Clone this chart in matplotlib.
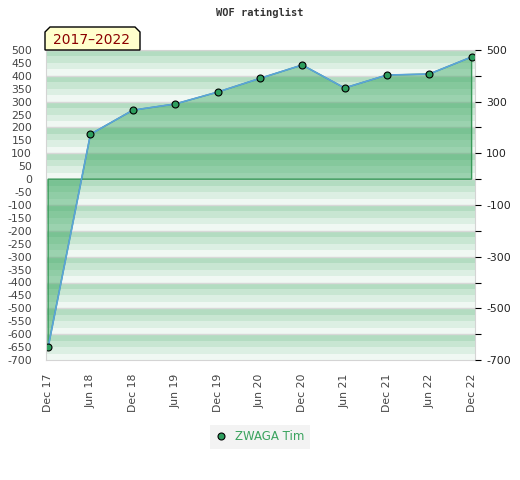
import numpy as np
import matplotlib.pyplot as plt
from matplotlib.patches import Polygon

plt.rcParams['axes.unicode_minus'] = False

# data
periods = ['Dec 17', 'Jun 18', 'Dec 18', 'Jun 19', 'Dec 19', 'Jun 20',
           'Dec 20', 'Jun 21', 'Dec 21', 'Jun 22', 'Dec 22']
rating = [-651, 174, 267, 291, 337, 390, 442, 353, 403, 407, 473]
player = 'ZWAGA Tim'
title = 'WOF ratinglist'
period_label = '2017\u20132022'

y_min, y_max = -700, 500
left_ticks = list(range(-700, 501, 50))
right_major = list(range(-700, 501, 200))
right_minor = list(range(-600, 501, 200))

stripe_cols = ['#b3dcc1', '#c8e6d2', '#dcefe3', '#f0f8f3']

fig = plt.figure(figsize=(5.2, 4.8), dpi=100)
ax = fig.add_axes([46 / 520, 1 - 360 / 480, 429 / 520, 310 / 480])

# striped background, darkest at the top of each 100 band
for top in range(y_max, y_min, -100):
    for k, c in enumerate(stripe_cols):
        ax.axhspan(top - 25 * (k + 1), top - 25 * k, color=c, lw=0, zorder=0)
    ax.axhline(top, color='#d8d8d8', lw=1, zorder=0.5)

x = np.arange(len(periods))
poly = [(x[0], 0)] + list(zip(x, rating)) + [(x[-1], 0)]
ax.add_patch(Polygon(poly, closed=True, facecolor='#34a45c', alpha=0.45,
                     edgecolor='none', zorder=1))
ax.add_patch(Polygon(poly, closed=True, facecolor='none',
                     edgecolor='#3a9a5a', lw=1, zorder=1.5))

ax.plot(x, rating, color='#5ba3db', lw=1.2, zorder=2,
        marker='o', ms=5, mfc='#2e9e5e', mec='black', mew=0.8, label=player)

ax.set_xlim(-0.05, 10.08)
ax.set_ylim(y_min, y_max)
ax.set_yticks(left_ticks)
ax.tick_params(axis='y', length=0, labelsize=7.8, labelcolor='#444444', pad=10)
ax.set_xticks(x)
ax.set_xticklabels(periods, rotation=90)
ax.tick_params(axis='x', length=0, labelsize=7.8, labelcolor='#444444', pad=10)
for s in ax.spines.values():
    s.set_color('#d4d4d4')

ax2 = ax.twinx()
ax2.set_ylim(y_min, y_max)
ax2.set_yticks(right_major)
ax2.set_yticks(right_minor, minor=True)
ax2.tick_params(axis='y', which='both', length=4, width=0.8, labelsize=7.8,
                labelcolor='#222222', pad=4)
for s in ax2.spines.values():
    s.set_visible(False)

fig.text(260 / 520, 1 - 13 / 480, title, ha='center', va='center',
         family='DejaVu Sans Mono', fontsize=7.5, fontweight='bold',
         color='#333333')

# period tag with clipped top corners
tag = [(45, 50), (45, 32), (50, 27), (135, 27), (140, 32), (140, 50)]
tag = [(px / 520, 1 - py / 480) for px, py in tag]
fig.patches.append(Polygon(tag, closed=True, transform=fig.transFigure,
                           facecolor='#ffffcc', edgecolor='black', lw=1,
                           zorder=5))
fig.text(92 / 520, 1 - 40 / 480, period_label, ha='center', va='center',
         fontsize=10, color='#8b0000', zorder=6)

leg = fig.legend(loc='center', bbox_to_anchor=(260 / 520, 1 - 437 / 480),
                 frameon=True, fontsize=8.5, handlelength=0.8,
                 handletextpad=0.8, borderpad=0.5, fancybox=False)
leg.get_frame().set_facecolor('#f0f0f0')
leg.get_frame().set_edgecolor('none')
for t in leg.get_texts():
    t.set_color('#3aa35e')
leg.get_lines()[0].set_linestyle('none')

fig.savefig('out.png', dpi=100)
